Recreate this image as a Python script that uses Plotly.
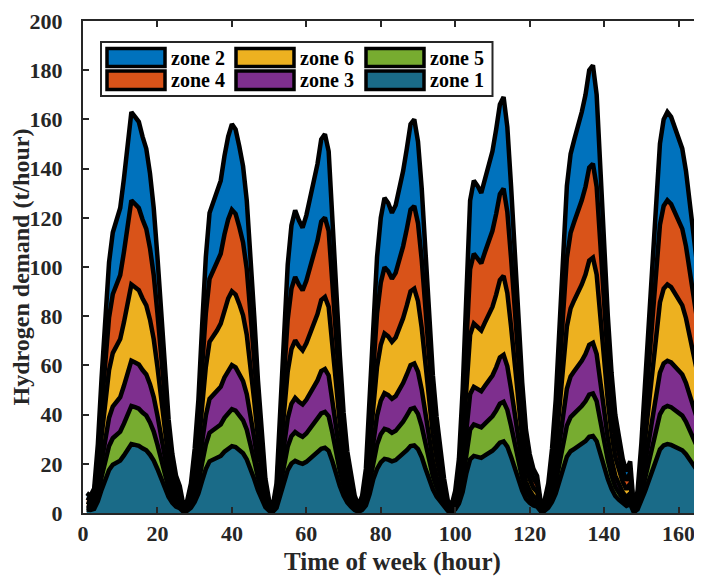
import plotly.graph_objects as go

hours = list(range(1, 169))

zone1 = [1.4,1.2,1.7,4.8,9.5,14.1,17.5,19.6,20.5,21.3,23.4,26.1,28.0,27.7,27.3,26.3,25.5,23.7,21.3,17.9,14.1,10.0,6.5,4.1,
         2.6,1.9,0.5,0.9,2.1,4.5,7.9,13.1,17.9,21.0,21.7,22.4,23.2,24.9,26.3,27.2,26.8,25.6,24.3,21.8,18.2,13.8,9.3,5.5,
         2.4,0.9,0.5,2.1,6.9,13.1,17.4,20.1,21.2,20.5,20.0,20.8,22.0,23.2,24.4,26.1,26.5,25.3,21.0,15.8,11.0,7.1,4.3,2.6,
         1.2,0.5,1.2,3.1,7.7,13.8,17.9,20.6,22.0,21.7,21.0,21.5,22.7,23.9,25.5,27.2,27.5,26.0,22.7,18.1,13.4,9.6,6.7,4.5,
         2.4,0.9,0.5,1.5,3.8,8.6,16.2,21.8,23.2,22.9,22.4,23.4,24.3,25.3,26.8,28.6,29.1,27.0,22.9,17.9,13.4,9.1,5.8,4.1,
         3.1,2.6,0.7,0.9,2.1,4.5,7.9,12.4,17.9,22.9,25.1,26.1,27.0,28.0,29.2,31.0,31.3,29.2,24.1,18.2,13.8,9.8,6.9,5.3,
         3.8,2.9,3.6,0.3,1.5,4.8,8.9,13.1,17.2,21.7,25.8,27.5,28.0,27.7,27.0,26.3,25.5,23.9,21.7,18.9,16.9,15.1,13.4,11.7]

zone5 = [0.8,0.7,1.0,2.7,5.2,7.8,9.7,10.8,11.3,11.8,12.9,14.4,15.5,15.3,15.1,14.5,14.1,13.1,11.8,9.9,7.8,5.5,3.6,2.3,
         1.4,1.0,0.3,0.5,1.1,2.5,4.4,7.2,9.9,11.6,12.0,12.4,12.8,13.8,14.5,15.0,14.8,14.2,13.4,12.1,10.1,7.6,5.1,3.0,
         1.3,0.5,0.3,1.1,3.8,7.2,9.6,11.1,11.7,11.3,11.0,11.5,12.2,12.8,13.5,14.4,14.6,14.0,11.6,8.7,6.1,3.9,2.4,1.4,
         0.7,0.3,0.7,1.7,4.3,7.6,9.9,11.4,12.2,12.0,11.6,11.9,12.5,13.2,14.1,15.0,15.2,14.3,12.5,10.0,7.4,5.3,3.7,2.5,
         1.3,0.5,0.3,0.9,2.1,4.8,8.9,12.1,12.8,12.6,12.4,12.9,13.4,14.0,14.8,15.8,16.1,14.9,12.6,9.9,7.4,5.0,3.2,2.3,
         1.7,1.4,0.4,0.5,1.1,2.5,4.4,6.8,9.9,12.6,13.9,14.4,14.9,15.5,16.2,17.1,17.3,16.2,13.3,10.1,7.6,5.4,3.8,2.9,
         2.1,1.6,2.0,0.2,0.9,2.7,4.9,7.2,9.5,12.0,14.3,15.2,15.5,15.3,14.9,14.5,14.1,13.2,12.0,10.5,9.3,8.4,7.4,6.5]

zone3 = [0.9,0.8,1.1,3.2,6.2,9.3,11.5,12.9,13.4,14.0,15.4,17.2,18.4,18.2,18.0,17.3,16.7,15.6,14.0,11.8,9.3,6.6,4.3,2.7,
         1.7,1.2,0.3,0.6,1.4,2.9,5.2,8.6,11.8,13.8,14.2,14.7,15.3,16.4,17.3,17.9,17.6,16.8,15.9,14.4,12.0,9.0,6.1,3.6,
         1.6,0.6,0.3,1.4,4.5,8.6,11.4,13.2,13.9,13.4,13.1,13.7,14.5,15.3,16.0,17.2,17.4,16.6,13.8,10.4,7.2,4.6,2.8,1.7,
         0.8,0.3,0.8,2.0,5.1,9.0,11.8,13.6,14.5,14.2,13.8,14.1,14.9,15.7,16.7,17.9,18.1,17.1,14.9,11.9,8.8,6.3,4.4,2.9,
         1.6,0.6,0.3,1.0,2.5,5.7,10.6,14.4,15.3,15.0,14.7,15.4,15.9,16.6,17.6,18.8,19.1,17.7,15.0,11.8,8.8,6.0,3.8,2.7,
         2.0,1.7,0.5,0.6,1.4,2.9,5.2,8.1,11.8,15.0,16.5,17.2,17.7,18.4,19.2,20.3,20.6,19.2,15.8,12.0,9.0,6.4,4.5,3.5,
         2.5,1.9,2.4,0.2,1.0,3.2,5.9,8.6,11.3,14.2,17.0,18.1,18.4,18.2,17.7,17.3,16.7,15.7,14.2,12.4,11.1,9.9,8.8,7.7]

zone6 = [1.5,1.3,1.9,5.3,10.5,15.6,19.4,21.7,22.6,23.6,25.8,28.9,31.0,30.6,30.2,29.1,28.1,26.2,23.6,19.8,15.6,11.0,7.2,4.6,
         2.9,2.1,0.6,1.0,2.3,4.9,8.7,14.4,19.8,23.2,23.9,24.7,25.7,27.6,29.1,30.0,29.6,28.3,26.8,24.1,20.1,15.2,10.3,6.1,
         2.7,1.0,0.6,2.3,7.6,14.4,19.2,22.2,23.4,22.6,22.0,23.0,24.3,25.7,27.0,28.9,29.3,27.9,23.2,17.5,12.2,7.8,4.8,2.9,
         1.3,0.6,1.3,3.4,8.6,15.2,19.8,22.8,24.3,23.9,23.2,23.8,25.1,26.4,28.1,30.0,30.4,28.7,25.1,20.0,14.8,10.6,7.4,4.9,
         2.7,1.0,0.6,1.7,4.2,9.5,17.9,24.1,25.7,25.3,24.7,25.8,26.8,27.9,29.6,31.5,32.1,29.8,25.3,19.8,14.8,10.1,6.5,4.6,
         3.4,2.9,0.8,1.0,2.3,4.9,8.7,13.7,19.8,25.3,27.7,28.9,29.8,31.0,32.3,34.2,34.6,32.3,26.6,20.1,15.2,10.8,7.6,5.9,
         4.2,3.2,4.0,0.4,1.7,5.3,9.9,14.4,19.0,23.9,28.5,30.4,31.0,30.6,29.8,29.1,28.1,26.4,23.9,20.9,18.6,16.7,14.8,12.9]

zone4 = [1.7,1.5,2.1,5.9,11.6,17.2,21.4,23.9,25.0,26.0,28.6,31.9,34.2,33.8,33.4,32.1,31.1,29.0,26.0,21.8,17.2,12.2,8.0,5.0,
         3.2,2.3,0.6,1.0,2.5,5.5,9.7,16.0,21.8,25.6,26.5,27.3,28.4,30.5,32.1,33.2,32.8,31.3,29.6,26.7,22.3,16.8,11.3,6.7,
         2.9,1.0,0.6,2.5,8.4,16.0,21.2,24.6,25.8,25.0,24.4,25.4,26.9,28.4,29.8,31.9,32.3,30.9,25.6,19.3,13.4,8.6,5.3,3.2,
         1.5,0.6,1.5,3.8,9.5,16.8,21.8,25.2,26.9,26.5,25.6,26.3,27.7,29.2,31.1,33.2,33.6,31.7,27.7,22.1,16.4,11.8,8.2,5.5,
         2.9,1.0,0.6,1.9,4.6,10.5,19.7,26.7,28.4,27.9,27.3,28.6,29.6,30.9,32.8,34.9,35.5,33.0,27.9,21.8,16.4,11.1,7.1,5.0,
         3.8,3.2,0.8,1.0,2.5,5.5,9.7,15.1,21.8,27.9,30.7,31.9,33.0,34.2,35.7,37.8,38.2,35.7,29.4,22.3,16.8,12.0,8.4,6.5,
         4.6,3.6,4.4,0.4,1.9,5.9,10.9,16.0,21.0,26.5,31.5,33.6,34.2,33.8,33.0,32.1,31.1,29.2,26.5,23.1,20.6,18.5,16.4,14.3]

zone2 = [1.8,1.5,2.2,6.2,12.1,18.0,22.4,25.1,26.2,27.3,29.9,33.4,35.9,35.4,35.0,33.7,32.6,30.4,27.3,22.9,18.0,12.8,8.4,5.3,
         3.3,2.4,0.7,1.1,2.6,5.7,10.1,16.7,22.9,26.8,27.7,28.6,29.7,31.9,33.7,34.8,34.3,32.8,31.0,27.9,23.3,17.6,11.9,7.0,
         3.1,1.1,0.7,2.6,8.8,16.7,22.2,25.7,27.1,26.2,25.5,26.6,28.2,29.7,31.2,33.4,33.9,32.3,26.8,20.2,14.1,9.0,5.5,3.3,
         1.5,0.7,1.5,4.0,9.9,17.6,22.9,26.4,28.2,27.7,26.8,27.5,29.0,30.6,32.6,34.8,35.2,33.2,29.0,23.1,17.2,12.3,8.6,5.7,
         3.1,1.1,0.7,2.0,4.8,11.0,20.7,27.9,29.7,29.3,28.6,29.9,31.0,32.3,34.3,36.5,37.2,34.5,29.3,22.9,17.2,11.7,7.5,5.3,
         4.0,3.3,0.9,1.1,2.6,5.7,10.1,15.8,22.9,29.3,32.1,33.4,34.5,35.9,37.4,39.6,40.0,37.4,30.8,23.3,17.6,12.5,8.8,6.8,
         4.8,3.7,4.6,0.4,2.0,6.2,11.4,16.7,22.0,27.7,33.0,35.2,35.9,35.4,34.5,33.7,32.6,30.6,27.7,24.2,21.6,19.4,17.2,15.0]

# stacking order bottom -> top
series = [
    ("zone 1", zone1, "#1A6B88"),
    ("zone 5", zone5, "#77AC30"),
    ("zone 3", zone3, "#7E2F8E"),
    ("zone 6", zone6, "#EDB120"),
    ("zone 4", zone4, "#D95319"),
    ("zone 2", zone2, "#0072BD"),
]
colors = {name: c for name, _, c in series}

x_ticks = [0, 20, 40, 60, 80, 100, 120, 140, 160]
y_ticks = [0, 20, 40, 60, 80, 100, 120, 140, 160, 180, 200]

FONT = "Liberation Serif"
INK = "#262626"

fig = go.Figure()
for name, vals, col in series:
    fig.add_trace(go.Scatter(
        x=hours, y=vals, name=name, mode="lines", stackgroup="one",
        fillcolor=col, line=dict(color="black", width=4.5),
        showlegend=False, hoverinfo="skip"))

# page body has an 8px margin: figure is placed at (8, 8)
OFF = 8
# plot area in page pixels
L, T_, W, H = 83, 21, 619, 492
def px(xp):
    return (xp - L) / W
def py(yp):
    return (T_ + H - yp) / H

legend_rows = [["zone 2", "zone 6", "zone 5"], ["zone 4", "zone 3", "zone 1"]]
col_x = [107, 236, 366]
row_y = [(48.5, 66.5), (71, 89.5)]
shapes = [dict(type="rect", xref="paper", yref="paper",
               x0=px(101), x1=px(492.5), y0=py(96), y1=py(42),
               line=dict(color=INK, width=2), fillcolor="white", layer="above")]
annotations = []
for r, row in enumerate(legend_rows):
    for c, name in enumerate(row):
        y0, y1 = row_y[r]
        shapes.append(dict(type="rect", xref="paper", yref="paper",
                           x0=px(col_x[c]), x1=px(col_x[c] + 58), y0=py(y1), y1=py(y0),
                           line=dict(color="black", width=3.5), fillcolor=colors[name],
                           layer="above"))
        annotations.append(dict(xref="paper", yref="paper", x=px(col_x[c] + 62),
                                y=py((y0 + y1) / 2), text=name, showarrow=False,
                                xanchor="left", yanchor="middle",
                                font=dict(family=FONT, size=20, color="black", weight="bold")))

fig.update_layout(
    width=702 - OFF, height=576 - OFF,
    margin=dict(l=L - OFF, r=0, t=T_ - OFF, b=576 - (T_ + H), autoexpand=False),
    paper_bgcolor="white", plot_bgcolor="white",
    showlegend=False,
    shapes=shapes, annotations=annotations,
    font=dict(family=FONT, color=INK),
)
fig.update_xaxes(
    range=[0, 166.3], tickvals=x_ticks, ticks="inside", ticklen=6, tickwidth=1.5,
    tickcolor=INK, showline=True, linecolor=INK, linewidth=2, mirror="ticks",
    showgrid=False, zeroline=False, automargin=False,
    tickfont=dict(family=FONT, size=22, color=INK, weight="bold"),
    title=dict(text="Time of week (hour)", standoff=9,
               font=dict(family=FONT, size=25, color=INK, weight="bold")),
)
fig.update_yaxes(
    range=[0, 200], tickvals=y_ticks, ticks="inside", ticklen=6, tickwidth=1.5,
    tickcolor=INK, showline=True, linecolor=INK, linewidth=2, mirror=False,
    showgrid=False, zeroline=False, automargin=False, ticklabelstandoff=14,
    tickfont=dict(family=FONT, size=22, color=INK, weight="bold"),
    title=dict(text="Hydrogen demand (t/hour)", standoff=2,
               font=dict(family=FONT, size=24, color=INK, weight="bold")),
)

fig.write_html("out.html")
